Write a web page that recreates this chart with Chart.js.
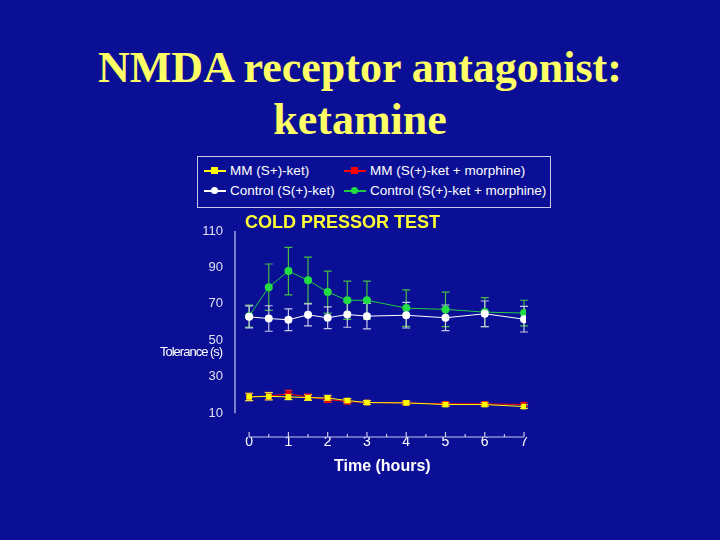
<!DOCTYPE html>
<html><head><meta charset="utf-8">
<script src="https://cdn.jsdelivr.net/npm/chart.js@4"></script>
<style>
body{margin:0;background:#0a0f96;width:720px;height:540px;overflow:hidden;position:relative;font-family:"Liberation Sans",Arial,sans-serif}
#t{position:absolute;top:42px;left:0;width:720px;text-align:center;color:#ffff66;font:bold 44px "Liberation Serif","Times New Roman",serif;line-height:52px}
#lg{position:absolute;left:197px;top:156px;width:352px;height:50px;border:1px solid #c8c8e8;color:#fff;font-size:13.5px}
.it{position:absolute;display:flex;align-items:center}
.it span.m{display:inline-block;width:22px;height:2px;position:relative;margin-right:4px}
.it span.m i{position:absolute;left:7px;top:-3px;width:7px;height:7px}
#ct{position:absolute;left:245px;top:212px;color:#ffff33;font-weight:bold;font-size:18px}
#xt{position:absolute;left:334px;top:457px;color:#fff;font-weight:bold;font-size:16px}
#yt{position:absolute;left:160px;top:344px;color:#fff;font-size:13px;letter-spacing:-1px}
canvas{position:absolute;left:0;top:0}
</style></head><body>
<div id="t">NMDA receptor antagonist:<br>ketamine</div>
<div id="lg">
<div class="it" style="left:6px;top:6px"><span class="m" style="background:#ffff00"><i style="background:#ffff00"></i></span>MM (S+)-ket)</div>
<div class="it" style="left:146px;top:6px"><span class="m" style="background:#ff0000"><i style="background:#ff0000"></i></span>MM (S(+)-ket + morphine)</div>
<div class="it" style="left:6px;top:26px"><span class="m" style="background:#fff"><i style="background:#fff;border-radius:50%"></i></span>Control (S(+)-ket)</div>
<div class="it" style="left:146px;top:26px"><span class="m" style="background:#22cc44"><i style="background:#22dd44;border-radius:50%"></i></span>Control (S(+)-ket + morphine)</div>
</div>
<canvas id="c" width="720" height="540"></canvas>
<div id="ct">COLD PRESSOR TEST</div>
<div id="xt">Time (hours)</div>
<div id="yt">Tolerance (s)</div>
<script>
const times=[0,0.5,1,1.5,2,2.5,3,4,5,6,7];
const xTicks=[0,1,2,3,4,5,6,7];
const yTicks=[10,30,50,70,90,110];
const mmKet=[19,19.3,19,18.6,18.4,17,15.9,15.7,14.8,14.8,13.7];
const mmKetErr=[2,2,1.5,1.5,1.5,1,1,1,1,1,1];
const mmKetMor=[19,19.5,20.6,19,17.5,16.5,15.9,15.7,15.2,15.2,14.8];
const mmKetMorErr=[2,2,2,1.5,1.5,1.5,1,1,1,1,1];
const ctlKet=[62.9,62,61.3,64,62.4,64.2,63.3,63.8,62.4,64.6,61.6];
const ctlKetErr=[6,7,6,6,6,7,7,7,7,7,7];
const ctlKetMor=[63.3,79.2,88,83,76.5,72,72,67.7,67,65.5,65];
const ctlKetMorErr=[6,12.7,13,12.7,11.5,10.5,10.5,10,9.5,8,7];
const mk=(v)=>times.map((t,i)=>({x:t,y:v[i]}));
const ds=[
 {label:'Control (S(+)-ket + morphine)',data:mk(ctlKetMor),err:ctlKetMorErr,borderColor:'#22cc44',backgroundColor:'#22dd44',pointStyle:'circle',pointRadius:4,ec:'#44bb44',order:2},
 {label:'Control (S(+)-ket)',data:mk(ctlKet),err:ctlKetErr,borderColor:'#ffffff',backgroundColor:'#ffffff',pointStyle:'circle',pointRadius:4,ec:'#c8c8e8',order:1},
 {label:'MM (S(+)-ket + morphine)',data:mk(mmKetMor),err:mmKetMorErr,borderColor:'#ff0000',backgroundColor:'#ee0000',pointStyle:'rect',pointRadius:4,ec:'#dd2222',order:4},
 {label:'MM (S+)-ket)',data:mk(mmKet),err:mmKetErr,borderColor:'#ffff00',backgroundColor:'#ffff00',pointStyle:'rect',pointRadius:4,ec:'#dddd55',order:3}
].map(d=>Object.assign(d,{borderWidth:1,pointBorderWidth:0,showLine:true}));
const errPlug={id:'err',beforeDatasetsDraw(ch){const c=ch.ctx,xs=ch.scales.x,ys=ch.scales.y;
 c.save();c.lineWidth=1.2;
 ch.data.datasets.forEach(d=>{c.strokeStyle=d.ec;d.data.forEach((p,i)=>{const x=xs.getPixelForValue(p.x),y1=ys.getPixelForValue(p.y-d.err[i]),y2=ys.getPixelForValue(p.y+d.err[i]);
 c.beginPath();c.moveTo(x,y1);c.lineTo(x,y2);c.moveTo(x-4,y1);c.lineTo(x+4,y1);c.moveTo(x-4,y2);c.lineTo(x+4,y2);c.stroke();});});
 c.strokeStyle='#c8c8e8';c.beginPath();
 const yb=ys.getPixelForValue(-3);c.moveTo(xs.getPixelForValue(0),yb);c.lineTo(xs.getPixelForValue(7),yb);
 xTicks.forEach(t=>{const x=xs.getPixelForValue(t);c.moveTo(x,yb);c.lineTo(x,yb-5);});
 for(let t=0.5;t<7;t+=1){const x=xs.getPixelForValue(t);c.moveTo(x,yb);c.lineTo(x,yb-3);}
 const xa=xs.getPixelForValue(-0.36);c.moveTo(xa,ys.getPixelForValue(110));c.lineTo(xa,ys.getPixelForValue(10));
 c.stroke();c.restore();}};
new Chart(document.getElementById('c'),{type:'scatter',data:{datasets:ds},plugins:[errPlug],
 options:{responsive:false,animation:false,layout:{padding:{top:231,right:194}},
 plugins:{legend:{display:false},tooltip:{enabled:false}},
 scales:{
  x:{type:'linear',min:-0.36,max:7.05,grid:{display:false},border:{display:false},
   afterBuildTicks:s=>{s.ticks=xTicks.map(v=>({value:v}));},afterFit:s=>{s.height=103;},
   ticks:{color:'#fff',font:{size:14,family:'Liberation Sans'},padding:-11}},
  y:{min:-3,max:110,grid:{display:false},border:{display:false},
   afterBuildTicks:s=>{s.ticks=yTicks.map(v=>({value:v}));},afterFit:s=>{s.width=235;},
   ticks:{color:'#e0e0f0',font:{size:13,family:'Liberation Sans'},padding:4}}
 }}});
</script></body></html>
